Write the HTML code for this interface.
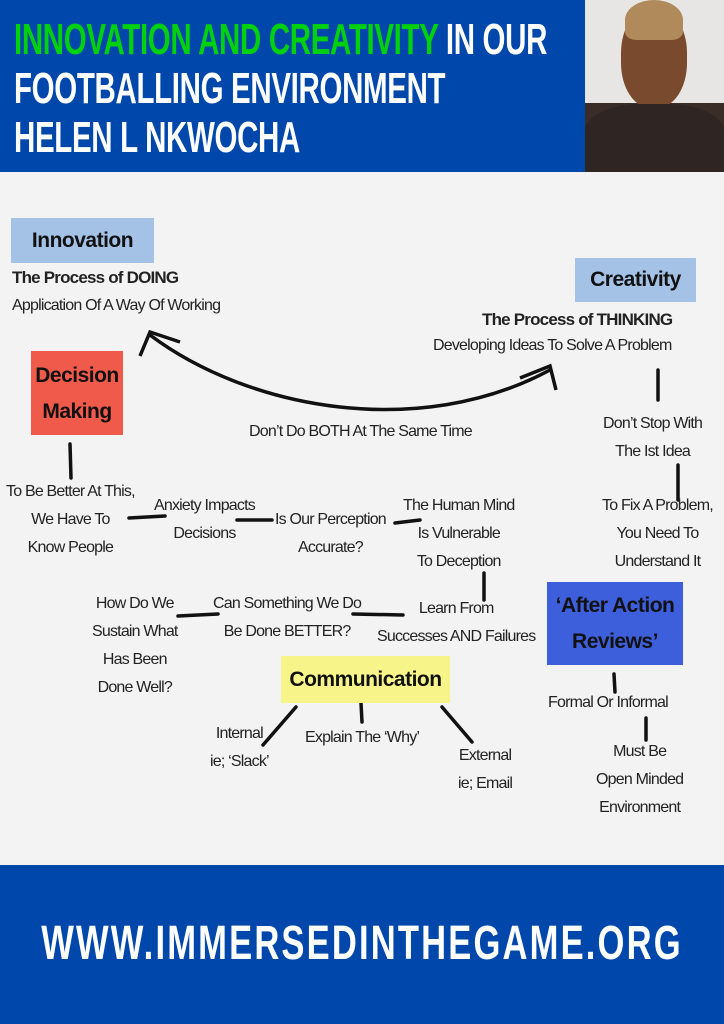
<!DOCTYPE html>
<html><head><meta charset="utf-8"><style>
*{margin:0;padding:0;box-sizing:border-box}
body{width:724px;height:1024px;position:relative;background:#f3f3f3;font-family:"Liberation Sans",sans-serif;overflow:hidden}
.hdr{position:absolute;left:0;top:0;width:724px;height:172px;background:#0047ab}
.ht{position:absolute;left:14px;font-weight:bold;color:#fff;font-size:44px;line-height:52px;transform:scaleX(0.67);transform-origin:left top;letter-spacing:-0.5px;white-space:nowrap}
.photo{position:absolute;left:585px;top:0;width:139px;height:172px;background:linear-gradient(#e8e6e4 0,#e8e6e4 60%,#3a2d28 60%);}
.ftr{position:absolute;left:0;top:865px;width:724px;height:159px;background:#0047ab}
.ft{position:absolute;left:-400px;width:1524px;top:916px;text-align:center;color:#fff;font-weight:bold;font-size:48px;letter-spacing:3px;transform:scaleX(0.72);transform-origin:center;white-space:nowrap}
.t{position:absolute;font-size:16px;color:#222;text-align:center;line-height:28px;white-space:nowrap;letter-spacing:-0.8px}
.box{position:absolute;font-weight:bold;font-size:21px;color:#111;text-align:center;letter-spacing:-0.5px}
</style></head><body>
<div class="hdr"></div>
<div class="ht" style="top:14px"><span style="color:#00d10e">INNOVATION AND CREATIVITY</span> IN OUR</div>
<div class="ht" style="top:63px">FOOTBALLING ENVIRONMENT</div>
<div class="ht" style="top:112px">HELEN L NKWOCHA</div>
<div class="photo">
<div style="position:absolute;left:36px;top:8px;width:66px;height:100px;border-radius:45%;background:#7a4a2e"></div>
<div style="position:absolute;left:40px;top:0;width:58px;height:40px;border-radius:50% 50% 20% 20%;background:#b08a5a"></div>
<div style="position:absolute;left:0;top:104px;width:139px;height:68px;border-radius:40% 40% 0 0;background:#2f2522"></div>
</div>

<div class="box" style="left:11px;top:218px;width:143px;height:45px;line-height:45px;background:#a4c2e6">Innovation</div>
<div class="t" style="left:12px;top:264px;font-weight:bold;font-size:17px">The Process of DOING</div>
<div class="t" style="left:12px;top:292px">Application Of A Way Of Working</div>

<div class="box" style="left:575px;top:258px;width:121px;height:44px;line-height:44px;background:#a4c2e6">Creativity</div>
<div class="t" style="left:482px;top:306px;font-weight:bold;font-size:17px">The Process of THINKING</div>
<div class="t" style="left:433px;top:332px">Developing Ideas To Solve A Problem</div>

<div class="box" style="left:31px;top:351px;width:92px;height:84px;line-height:36px;padding-top:7px;background:#f05a4b">Decision<br>Making</div>

<svg style="position:absolute;left:0;top:0" width="724" height="865">
<path d="M150 335 C250 410 420 440 550 370" fill="none" stroke="#111" stroke-width="3.5"/>
<path d="M140 356 L150 332 L180 342" fill="none" stroke="#111" stroke-width="3.5"/>
<path d="M520 378 L550 366 L556 390" fill="none" stroke="#111" stroke-width="3.5"/>
<g stroke="#111" stroke-width="3.5" stroke-linecap="round">
<line x1="70" y1="444" x2="71" y2="478"/>
<line x1="658" y1="370" x2="658" y2="400"/>
<line x1="678" y1="465" x2="678" y2="500"/>
<line x1="129" y1="518" x2="165" y2="516"/>
<line x1="237" y1="520" x2="272" y2="520"/>
<line x1="395" y1="523" x2="420" y2="520"/>
<line x1="484" y1="573" x2="484" y2="600"/>
<line x1="178" y1="616" x2="218" y2="614"/>
<line x1="353" y1="614" x2="403" y2="615"/>
<line x1="614" y1="674" x2="615" y2="692"/>
<line x1="646" y1="718" x2="646" y2="740"/>
<line x1="296" y1="707" x2="263" y2="745"/>
<line x1="361" y1="703" x2="362" y2="722"/>
<line x1="442" y1="707" x2="472" y2="742"/>
</g>
</svg>

<div class="t" style="left:249px;top:418px">Don’t Do BOTH At The Same Time</div>
<div class="t" style="left:603px;top:410px">Don’t Stop With<br>The Ist Idea</div>
<div class="t" style="left:6px;top:478px">To Be Better At This,<br>We Have To<br>Know People</div>
<div class="t" style="left:154px;top:492px">Anxiety Impacts<br>Decisions</div>
<div class="t" style="left:275px;top:506px">Is Our Perception<br>Accurate?</div>
<div class="t" style="left:403px;top:492px">The Human Mind<br>Is Vulnerable<br>To Deception</div>
<div class="t" style="left:602px;top:492px">To Fix A Problem,<br>You Need To<br>Understand It</div>
<div class="t" style="left:92px;top:590px">How Do We<br>Sustain What<br>Has Been<br>Done Well?</div>
<div class="t" style="left:213px;top:590px">Can Something We Do<br>Be Done BETTER?</div>
<div class="t" style="left:377px;top:595px">Learn From<br>Successes AND Failures</div>
<div class="box" style="left:547px;top:582px;width:136px;height:83px;line-height:36px;padding-top:6px;background:#3e5fdc">‘After Action<br>Reviews’</div>
<div class="box" style="left:281px;top:656px;width:169px;height:47px;line-height:47px;background:#f7f58a">Communication</div>
<div class="t" style="left:548px;top:689px">Formal Or Informal</div>
<div class="t" style="left:596px;top:738px">Must Be<br>Open Minded<br>Environment</div>
<div class="t" style="left:210px;top:720px">Internal<br>ie; ‘Slack’</div>
<div class="t" style="left:305px;top:724px">Explain The ‘Why’</div>
<div class="t" style="left:458px;top:742px">External<br>ie; Email</div>

<div class="ftr"></div>
<div class="ft">WWW.IMMERSEDINTHEGAME.ORG</div>
</body></html>
